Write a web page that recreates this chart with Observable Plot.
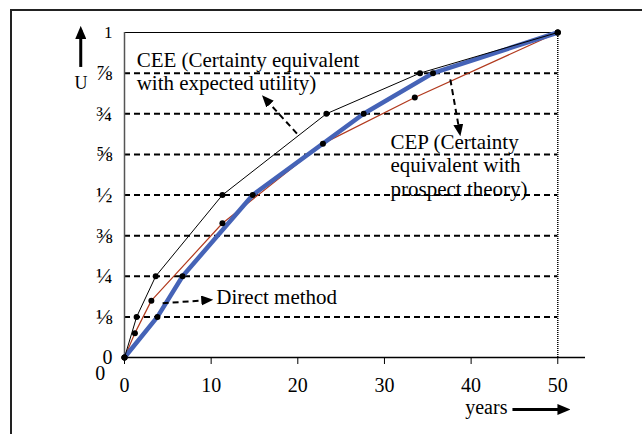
<!DOCTYPE html>
<html>
<head>
<meta charset="utf-8">
<script src="https://cdn.jsdelivr.net/npm/d3@7"></script>
<script src="https://cdn.jsdelivr.net/npm/@observablehq/plot@0.6"></script>
<style>
  html, body { margin: 0; padding: 0; background: #fff; overflow: hidden; }
  #wrap { position: relative; width: 642px; height: 434px; overflow: hidden; background: #fff; }
  #frame { position: absolute; left: 10px; top: 9px; width: 700px; height: 500px;
           border-left: 2px solid #222; border-top: 2px solid #222; pointer-events: none; }
  #chart { position: absolute; left: 0; top: 0; }
</style>
</head>
<body>
<div id="wrap"><div id="chart"></div><div id="frame"></div></div>
<script>
// ---- data ----
const ceeYears    = [0, 1.4, 3.6, 11.3, 23.3, 34.1, 50];
const ceeU        = [0, 0.125, 0.25, 0.5, 0.75, 0.875, 1];
const cepYears    = [0, 1.2, 3.1, 11.3, 22.9, 33.5, 50];
const cepU        = [0, 0.075, 0.175, 0.413, 0.658, 0.80, 1];
const directYears = [0, 3.8, 6.7, 14.8, 27.6, 35.6, 50];
const directU     = [0, 0.125, 0.25, 0.5, 0.75, 0.875, 1];

const xTicks      = [0, 10, 20, 30, 40, 50];
const yTicks      = [0, 0.125, 0.25, 0.375, 0.5, 0.625, 0.75, 0.875, 1];
const yTickLabels = ["0", "⅛", "¼", "⅜", "½", "⅝", "¾", "⅞", "1"];
const gridU       = [0.125, 0.25, 0.375, 0.5, 0.625, 0.75, 0.875];

// annotations (anchor points in data units: years, U)
const noteText = ["CEE (Certainty equivalent", "with expected utility)",
                  "CEP (Certainty", "equivalent with", "prospect theory)", "Direct method"];
const noteX    = [1.4, 1.4, 30.7, 30.7, 30.7, 10.6];
const noteY    = [0.894, 0.822, 0.643, 0.570, 0.498, 0.166];
const pointerX1 = [19.9, 37.6, 4.4];
const pointerY1 = [0.689, 0.856, 0.167];
const pointerX2 = [16.1, 38.7, 9.9];
const pointerY2 = [0.800, 0.690, 0.177];

// ---- build tables ----
const mk = (xs, ys) => xs.map((x, i) => ({x, y: ys[i]}));
const cee = mk(ceeYears, ceeU);
const cep = mk(cepYears, cepU);
const direct = mk(directYears, directU);
const notes = noteText.map((t, i) => ({t, x: noteX[i], y: noteY[i]}));
const pointers = pointerX1.map((x1, i) => ({x1, y1: pointerY1[i], x2: pointerX2[i], y2: pointerY2[i]}));
const yLabels = yTicks.map((v, i) => ({v, t: yTickLabels[i]}));
const labelSize = t => (t === "1" ? 17 : t === "0" ? 20 : 22);

const plot = Plot.plot({
  width: 642,
  height: 434,
  marginLeft: 124,
  marginRight: 57,
  marginTop: 32,
  marginBottom: 77,
  style: {fontFamily: "'Liberation Serif', 'Times New Roman', serif", background: "transparent", color: "#000"},
  x: {domain: [0, 53.2], axis: null},
  y: {domain: [0, 1], axis: null},
  marks: [
    // dashed reference levels
    Plot.ruleY(gridU, {x1: 0, x2: 50, stroke: "#000", strokeWidth: 2, strokeDasharray: "6,4"}),
    // top line and right dotted line
    Plot.ruleY([1], {x1: 0, x2: 50, stroke: "#000", strokeWidth: 1}),
    Plot.ruleX([50], {y1: 0, y2: 1, stroke: "#000", strokeWidth: 1.5, strokeDasharray: "1,1"}),
    // axes lines
    Plot.ruleX([0], {y1: 0, y2: 1, stroke: "#555", strokeWidth: 1.5}),
    Plot.ruleY([0], {stroke: "#000", strokeWidth: 1.5}),
    Plot.axisX({ticks: xTicks, tickSize: 7, tickPadding: 13, fontSize: 20, label: null, tickFormat: d => String(d)}),
    Plot.text(yLabels, {x: 0, y: "v", text: "t", dx: -12, textAnchor: "end", lineAnchor: "middle", fontSize: d => labelSize(d.t)}),
    // curves
    Plot.line(cep, {x: "x", y: "y", stroke: "#b23a1e", strokeWidth: 1.2}),
    Plot.line(direct, {x: "x", y: "y", stroke: "#4563b7", strokeWidth: 4.5}),
    Plot.line(cee, {x: "x", y: "y", stroke: "#000", strokeWidth: 1}),
    Plot.dot(cep, {x: "x", y: "y", r: 3, fill: "#000"}),
    Plot.dot(direct, {x: "x", y: "y", r: 3, fill: "#000"}),
    Plot.dot(cee, {x: "x", y: "y", r: 3, fill: "#000"}),
    // annotations
    Plot.text(notes, {x: "x", y: "y", text: "t", textAnchor: "start", lineAnchor: "bottom", fontSize: 21, fill: "#000"}),
    Plot.link(pointers, {x1: "x1", y1: "y1", x2: "x2", y2: "y2", stroke: "#000", strokeWidth: 2, strokeDasharray: "6,4", ariaDescription: "pointer"}),
    // axis names with arrows
    Plot.text(["U"], {x: -5.02, y: 0.827, text: d => d, textAnchor: "middle", lineAnchor: "bottom", fontSize: 18}),
    Plot.link([{x1: -5.05, y1: 0.894, x2: -5.05, y2: 1.008}], {x1: "x1", y1: "y1", x2: "x2", y2: "y2", stroke: "#000", strokeWidth: 3, ariaDescription: "bigarrow"}),
    Plot.text(["years"], {x: 44.19, y: -0.173, text: d => d, textAnchor: "end", lineAnchor: "bottom", fontSize: 20}),
    Plot.link([{x1: 44.77, y1: -0.160, x2: 51.0, y2: -0.160}], {x1: "x1", y1: "y1", x2: "x2", y2: "y2", stroke: "#000", strokeWidth: 3, ariaDescription: "bigarrow"}),
    Plot.text(["0"], {x: -2.8, y: -0.05, text: d => d, textAnchor: "middle", lineAnchor: "middle", fontSize: 20})
  ]
});

// filled triangular arrow heads
const svg = d3.select(plot);
const defs = svg.insert("defs", ":first-child");
function addMarker(id, L, W, ref) {
  defs.append("marker")
    .attr("id", id)
    .attr("viewBox", `0 0 ${L} ${W}`)
    .attr("refX", ref).attr("refY", W / 2)
    .attr("markerWidth", L).attr("markerHeight", W)
    .attr("markerUnits", "userSpaceOnUse")
    .attr("orient", "auto")
    .append("path").attr("d", `M0,0L${L},${W / 2}L0,${W}Z`).attr("fill", "#000").attr("stroke", "none");
}
addMarker("tri-small", 12, 10, 9);
addMarker("tri-big", 13, 11, 9);
svg.selectAll('g[aria-description="pointer"] path').attr("marker-end", "url(#tri-small)");
svg.selectAll('g[aria-description="bigarrow"] path').attr("marker-end", "url(#tri-big)");

document.getElementById("chart").appendChild(plot);
</script>
</body>
</html>
